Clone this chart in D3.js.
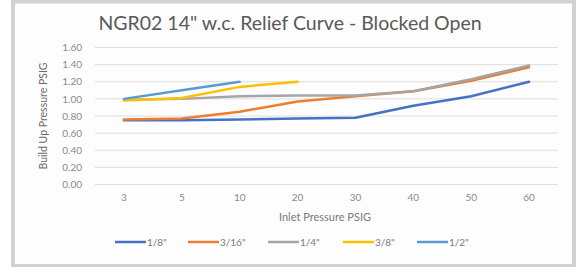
<!DOCTYPE html>
<html>
<head>
<script src="https://cdn.jsdelivr.net/npm/d3@7"></script>
<style>
  body { margin: 0; background: #fff; }
  text { font-family: Lato, "Open Sans", sans-serif; }
</style>
</head>
<body>
<svg id="chart" width="577" height="267"></svg>
<script>
// inlet pressures on the x axis
var categories = ["3", "5", "10", "20", "30", "40", "50", "60"];
var seriesNames = ["1/8\"", "3/16\"", "1/4\"", "3/8\"", "1/2\""];
var s18 = [0.75, 0.75, 0.76, 0.77, 0.78, 0.92, 1.03, 1.20];
var s316 = [0.76, 0.77, 0.85, 0.97, 1.03, 1.09, 1.21, 1.37];
var s14 = [0.99, 1.00, 1.03, 1.04, 1.04, 1.09, 1.23, 1.39];
var s38 = [0.98, 1.01, 1.14, 1.20];
var s12 = [1.00, 1.10, 1.20];
var yTicks = [0, 0.2, 0.4, 0.6, 0.8, 1.0, 1.2, 1.4, 1.6];
var colors = ["#4472C4", "#ED7D31", "#A5A5A5", "#FFC000", "#5B9BD5"];

var svg = d3.select("#chart");

// outer frame
svg.append("rect").attr("x", 13).attr("y", 1.5).attr("width", 561).attr("height", 264.5)
  .attr("fill", "#fdfdfd").attr("stroke", "#d2d2d2").attr("stroke-width", 4);

var x = d3.scaleBand().domain(categories).range([95, 558]);
var y = d3.scaleLinear().domain([0, 1.6]).range([184.5, 47.5]);

// gridlines
svg.append("g").selectAll("line").data(yTicks).enter().append("line")
  .attr("x1", 95).attr("x2", 558)
  .attr("y1", function(d) { return y(d); }).attr("y2", function(d) { return y(d); })
  .attr("stroke", "#dedede").attr("stroke-width", 1);

// y axis labels
var yAxis = svg.append("g").attr("transform", "translate(88,0)")
  .call(d3.axisLeft(y).tickValues(yTicks).tickSize(0).tickPadding(6).tickFormat(d3.format(".2f")));
yAxis.select(".domain").remove();
yAxis.selectAll("text").attr("fill", "#8a8a8a").style("font-size", "10px");

// x axis labels
var xAxis = svg.append("g").attr("transform", "translate(0,192)")
  .call(d3.axisBottom(x).tickSize(0).tickPadding(2));
xAxis.select(".domain").remove();
xAxis.selectAll("text").attr("fill", "#8a8a8a").style("font-size", "10px");

// titles
svg.append("text").attr("x", 290).attr("y", 30).attr("text-anchor", "middle")
  .attr("fill", "#595959").style("font-size", "19.5px").text("NGR02 14\" w.c. Relief Curve - Blocked Open");
svg.append("text").attr("x", 325).attr("y", 221).attr("text-anchor", "middle")
  .attr("fill", "#7a7a7a").style("font-size", "11px").text("Inlet Pressure PSIG");
svg.append("text").attr("transform", "translate(47,116) rotate(-90)").attr("text-anchor", "middle")
  .attr("fill", "#6a6a6a").style("font-size", "10.5px").text("Build Up Pressure PSIG");

// series lines
var allSeries = [s18, s316, s14, s38, s12];
var line = d3.line()
  .x(function(d, i) { return x(categories[i]) + x.bandwidth() / 2; })
  .y(function(d) { return y(d); });
svg.append("g").selectAll("path").data(allSeries).enter().append("path")
  .attr("d", line).attr("fill", "none")
  .attr("stroke", function(d, i) { return colors[i]; })
  .attr("stroke-width", 2.5).attr("stroke-linejoin", "round").attr("stroke-linecap", "round");

// legend
var legendX = [115, 188, 268, 343, 417];
var legend = svg.append("g").selectAll("g").data(seriesNames).enter().append("g")
  .attr("transform", function(d, i) { return "translate(" + legendX[i] + ",242)"; });
legend.append("line").attr("x1", 0).attr("x2", 31).attr("y1", 0).attr("y2", 0)
  .attr("stroke", function(d, i) { return colors[i]; }).attr("stroke-width", 2.5);
legend.append("text").attr("x", 32).attr("y", 3.5).attr("fill", "#7a7a7a")
  .style("font-size", "10px").text(function(d) { return d; });
</script>
</body>
</html>
